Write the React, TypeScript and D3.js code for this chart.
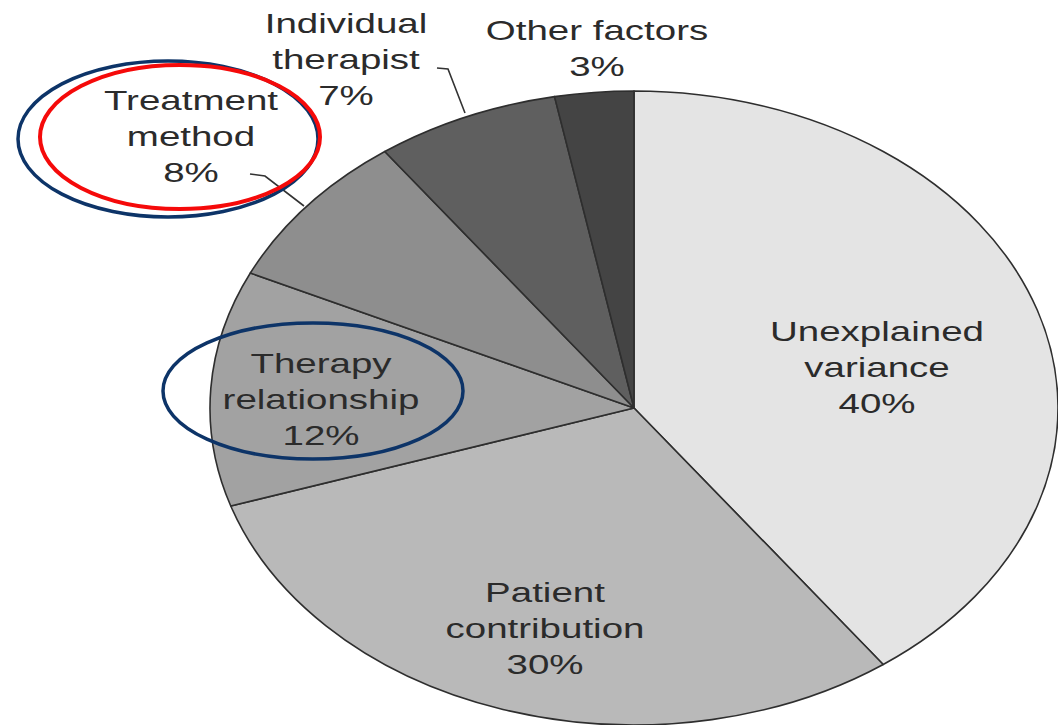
import React from "react";
import * as d3 from "d3";

const categories = ["Unexplained variance", "Patient contribution", "Therapy relationship", "Treatment method", "Individual therapist", "Other factors"];
const values = [40, 30, 12, 8, 7, 3];
const labelLines = [
  ["Unexplained", "variance", "40%"],
  ["Patient", "contribution", "30%"],
  ["Therapy", "relationship", "12%"],
  ["Treatment", "method", "8%"],
  ["Individual", "therapist", "7%"],
  ["Other factors", "3%"],
];
const fills = ["#e4e4e4", "#b9b9b9", "#a2a2a2", "#8e8e8e", "#5f5f5f", "#444444"];
// label anchor (center x, first baseline y) in page pixels
const labelPos: [number, number][] = [
  [877, 341],
  [545, 602],
  [321, 373],
  [191, 110],
  [346, 33],
  [597, 40],
];

const W = 1058, H = 725;
const cx = 634, cy = 408, ry = 317, rx = 424;
const sx = rx / ry;
const lineH = 36;
const textScale = 1.4;

export default function App() {
  const pie = d3.pie<number>().sort(null).value((d) => d);
  const arcs = pie(values);
  const arc = d3.arc<d3.PieArcDatum<number>>().innerRadius(0).outerRadius(ry);
  const leader = d3.line();
  return (
    <svg width={W} height={H} style={{ position: "absolute", left: 0, top: 0, background: "#fff" }}>
      <g transform={`translate(${cx},${cy}) scale(${sx},1)`}>
        {arcs.map((a, i) => (
          <path key={categories[i]} d={arc(a) || ""} fill={fills[i]} stroke="#2e2e2e" strokeWidth={1.6} strokeLinejoin="round" vectorEffect="non-scaling-stroke" />
        ))}
      </g>
      <path d={leader([[250, 174], [265, 176], [304, 206]]) || ""} fill="none" stroke="#333" strokeWidth={1.6} />
      <path d={leader([[437, 68], [448, 69], [465, 113]]) || ""} fill="none" stroke="#333" strokeWidth={1.6} />
      {labelLines.map((lines, i) => (
        <g key={categories[i]}>
          {lines.map((t, j) => (
            <text
              key={j}
              transform={`translate(${labelPos[i][0]},${labelPos[i][1] + j * lineH}) scale(${textScale},1)`}
              textAnchor="middle"
              fontFamily="Liberation Sans, Arial, sans-serif"
              fontSize={27.5}
              fill="#2b2b2b"
            >
              {t}
            </text>
          ))}
        </g>
      ))}
      <ellipse cx={168} cy={139} rx={150} ry={78} fill="none" stroke="#0d3468" strokeWidth={3.5} />
      <ellipse cx={180} cy={137} rx={140} ry={72} fill="none" stroke="#f50a0a" strokeWidth={4} />
      <ellipse cx={313} cy={391} rx={150} ry={68} fill="none" stroke="#0d3468" strokeWidth={3.5} />
    </svg>
  );
}
